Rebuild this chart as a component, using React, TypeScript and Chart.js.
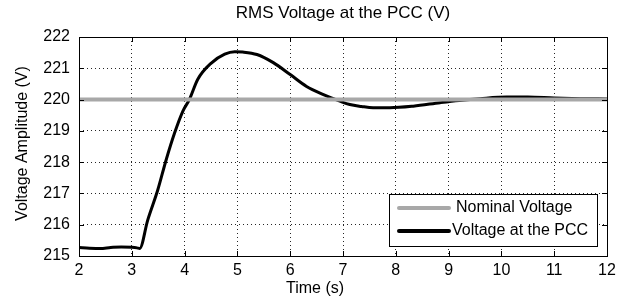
import React, { useEffect, useRef } from "react";
import { Chart, registerables } from "chart.js";

Chart.register(...registerables);

const chartTitle = "RMS Voltage at the PCC (V)";
const xAxisTitle = "Time (s)";
const yAxisTitle = "Voltage Amplitude (V)";

const nominalLabel = "Nominal Voltage";
const pccLabel = "Voltage at the PCC";

const nominalTime = [2, 12];
const nominalVoltage = [220, 220];

const pccTime = [
  2.0, 2.2, 2.4, 2.6, 2.8, 3.0, 3.1, 3.15, 3.3, 3.49, 3.65, 3.81, 3.97, 4.09,
  4.25, 4.5, 4.76, 4.95, 5.1, 5.37, 5.68, 6.0, 6.31, 6.63, 6.94, 7.13, 7.35,
  7.57, 7.89, 8.33, 8.84, 9.2, 9.6, 10.1, 10.5, 11.0, 11.5, 12.0,
];
const pccVoltage = [
  215.27, 215.25, 215.24, 215.27, 215.29, 215.28, 215.26, 215.24, 216.14, 217.1,
  218.07, 218.93, 219.64, 220.0, 220.65, 221.16, 221.45, 221.53, 221.52, 221.44,
  221.18, 220.8, 220.42, 220.16, 219.95, 219.84, 219.78, 219.74, 219.74, 219.79,
  219.9, 219.97, 220.03, 220.08, 220.08, 220.05, 220.03, 220.02,
];

const xMin = 2;
const xMax = 12;
const yMin = 215;
const yMax = 222;

const FONT = "'Liberation Sans', Arial, Helvetica, sans-serif";

export default function App() {
  const ref = useRef<HTMLCanvasElement | null>(null);

  useEffect(() => {
    if (!ref.current) return;

    const framePlugin = {
      id: "matlabFrame",
      afterDatasetsDraw(chart: any) {
        const { ctx, chartArea } = chart;
        const { left, right, top, bottom } = chartArea;
        const xs = chart.scales.x;
        const ys = chart.scales.y;
        ctx.save();
        ctx.strokeStyle = "#000";
        ctx.lineWidth = 1;
        ctx.beginPath();
        xs.ticks.forEach((t: any) => {
          const px = Math.round(xs.getPixelForValue(t.value)) + 0.5;
          ctx.moveTo(px, bottom);
          ctx.lineTo(px, bottom - 5);
          ctx.moveTo(px, top);
          ctx.lineTo(px, top + 5);
        });
        ys.ticks.forEach((t: any) => {
          const py = Math.round(ys.getPixelForValue(t.value)) + 0.5;
          ctx.moveTo(left, py);
          ctx.lineTo(left + 5, py);
          ctx.moveTo(right, py);
          ctx.lineTo(right - 5, py);
        });
        ctx.stroke();
        ctx.strokeRect(Math.round(left) + 0.5, Math.round(top) + 0.5, Math.round(right - left), Math.round(bottom - top));
        ctx.restore();
      },
      afterDraw(chart: any) {
        const { ctx, chartArea } = chart;
        const { left, right, top, bottom } = chartArea;
        ctx.save();
        ctx.fillStyle = "#000";
        ctx.textAlign = "center";
        ctx.textBaseline = "middle";
        ctx.font = `17px ${FONT}`;
        ctx.fillText(chartTitle, (left + right) / 2, 13);
        ctx.font = `16px ${FONT}`;
        ctx.fillText(xAxisTitle, 315, 289);
        ctx.save();
        ctx.translate(23, (top + bottom) / 2 - 3);
        ctx.rotate(-Math.PI / 2);
        ctx.fillText(yAxisTitle, 0, 0);
        ctx.restore();

        // legend
        const bw = 208;
        const bh = 52;
        const bx = Math.round(right - 10 - bw);
        const by = Math.round(bottom - 10 - bh);
        ctx.fillStyle = "#fff";
        ctx.fillRect(bx, by, bw, bh);
        ctx.strokeStyle = "#000";
        ctx.lineWidth = 1;
        ctx.strokeRect(bx + 0.5, by + 0.5, bw, bh);
        const ds = chart.data.datasets;
        const rows = [by + 14, by + 37];
        ds.forEach((d: any, i: number) => {
          ctx.strokeStyle = d.borderColor;
          ctx.lineWidth = 4;
          ctx.lineCap = "round";
          ctx.beginPath();
          ctx.moveTo(bx + 10, rows[i]);
          ctx.lineTo(bx + 60, rows[i]);
          ctx.stroke();
          ctx.fillStyle = "#000";
          ctx.textAlign = "left";
          ctx.fillText(d.label, bx + (i === 0 ? 67 : 63), rows[i]);
        });
        ctx.restore();
      },
    };

    const chart = new Chart(ref.current, {
      type: "line",
      data: {
        datasets: [
          {
            label: nominalLabel,
            data: nominalTime.map((t, i) => ({ x: t, y: nominalVoltage[i] })),
            borderColor: "#a8a8a8",
            borderWidth: 4,
            pointRadius: 0,
          },
          {
            label: pccLabel,
            data: pccTime.map((t, i) => ({ x: t, y: pccVoltage[i] })),
            borderColor: "#000000",
            borderWidth: 3,
            pointRadius: 0,
            cubicInterpolationMode: "monotone",
            borderJoinStyle: "round",
          },
        ],
      },
      options: {
        animation: false,
        responsive: false,
        maintainAspectRatio: false,
        layout: { padding: { left: 0, right: 32, top: 37, bottom: 0 } },
        plugins: {
          legend: { display: false },
          title: { display: false },
          tooltip: { enabled: false },
        },
        scales: {
          x: {
            type: "linear",
            min: xMin,
            max: xMax,
            ticks: {
              stepSize: 1,
              color: "#000",
              font: { family: FONT, size: 16 },
              padding: 5,
              maxRotation: 0,
            },
            grid: { color: "rgba(0,0,0,0.85)", lineWidth: 1, drawTicks: false },
            border: { display: false, dash: [1, 3] },
            afterFit(scale: any) {
              scale.height = 44;
            },
          },
          y: {
            type: "linear",
            min: yMin,
            max: yMax,
            ticks: {
              stepSize: 1,
              color: "#000",
              font: { family: FONT, size: 16 },
              padding: 9,
            },
            grid: { color: "rgba(0,0,0,0.85)", lineWidth: 1, drawTicks: false },
            border: { display: false, dash: [1, 3] },
            afterFit(scale: any) {
              scale.width = 79;
            },
          },
        },
      },
      plugins: [framePlugin],
    } as any);

    return () => chart.destroy();
  }, []);

  return (
    <div style={{ position: "absolute", left: 0, top: 0, width: 639, height: 300, background: "#fff" }}>
      <canvas ref={ref} width={639} height={300} style={{ width: 639, height: 300, display: "block" }} />
    </div>
  );
}
